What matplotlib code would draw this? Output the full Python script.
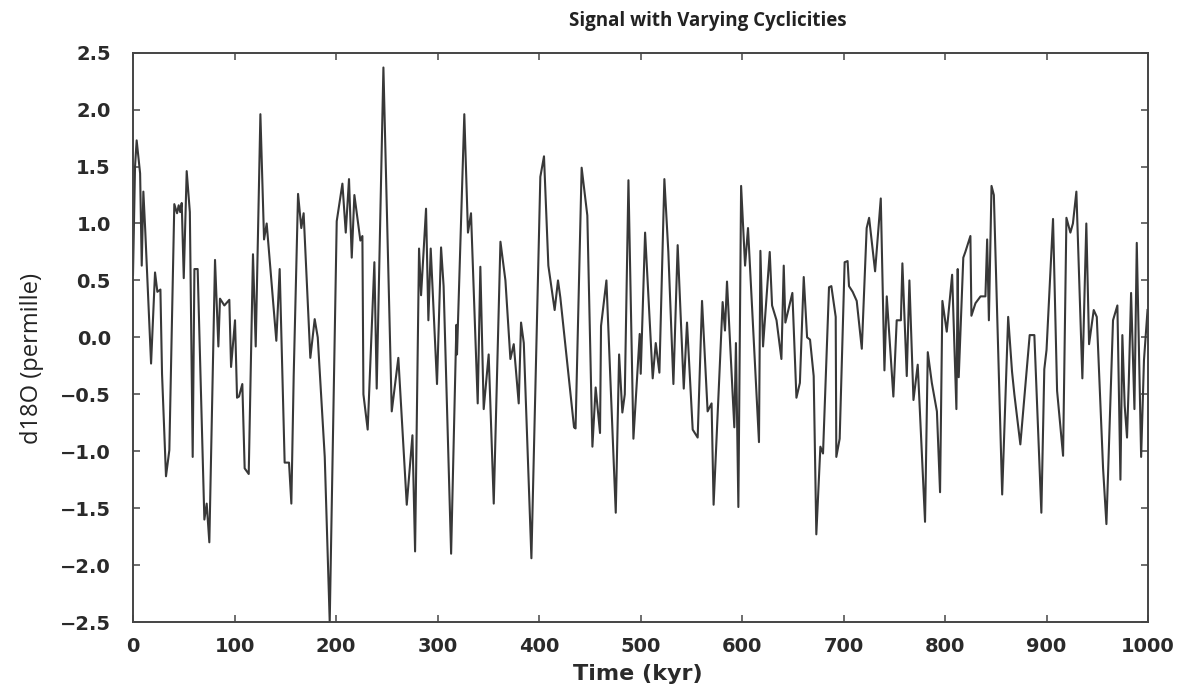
import matplotlib
matplotlib.use("Agg")
import matplotlib.pyplot as plt

# vertices of the signal (time in kyr, d18O in permille)
time_kyr = [0, 2, 3.6, 7, 8.6, 10.2, 12, 17.8, 21.7, 24, 27, 28.6, 32.5, 35.8,
            40.7, 43.4, 45, 46.5, 48, 50, 52.9, 56, 58.8, 60.5, 63.7, 70.3,
            72.6, 75.2, 80.8, 84.1, 85.7, 90, 94.9, 96.6, 100.5, 102.5,
            104.4, 107.7, 110, 114, 118.2, 120.9, 125.5, 129.1, 131.7, 141.2,
            144.5, 149.4, 153.7, 156, 158.3, 162.6, 165.8, 168.1, 174.7, 179,
            182, 188.9, 193.8, 200.7, 206.3, 209.6, 212.8, 215.5, 218.1, 224,
            226, 227, 231.2, 237.8, 240.1, 246.7, 254.9, 261.4, 269.7, 275.3,
            277.9, 281.8, 283.8, 288.7, 291, 293.3, 299.5, 303.5, 306, 313.4,
            318.6, 319.2, 326.4, 330, 333, 339.6, 342.2, 345.5, 350.4, 355.4,
            362, 366.9, 371.8, 375.1, 380, 382.3, 385, 392.5, 401.3, 404.9,
            409.2, 415.4, 418.7, 421, 434.5, 436, 442, 447.6, 452.6, 455.8,
            460.1, 461.1, 466.4, 475.6, 478.9, 482.1, 484.5, 488.1, 493, 499.2,
            500.2, 504.5, 512, 515, 518.6, 523.5, 527.4, 532.4, 536.6, 542.6,
            545.8, 551.4, 556.3, 560.6, 566.1, 570, 572, 580.9, 583.2, 585.2,
            592.4, 594, 596.4, 599.1, 603, 605.9, 616.7, 618.1, 620.7, 627.3,
            629.6, 634, 638.8, 641.1, 642.7, 649.6, 653.6, 657, 660.8, 664.1,
            667, 670.6, 673.2, 677.2, 679.8, 685.7, 688, 692.3, 692.9, 696.2,
            701.1, 704, 705.4, 709, 713, 718, 722.8, 725.2, 731.1, 736.7,
            740.3, 742.6, 749.1, 752.4, 756.5, 758, 762.3, 764.9, 768.9, 773.1,
            780.3, 783, 787, 792, 795.1, 797.4, 801.7, 807, 811.2, 812.5, 813.5,
            818, 820, 825, 826, 830, 835, 839.8, 841.5, 843.2, 845.8, 848.1,
            856.3, 862.2, 866, 868.3, 874.2, 883.4, 888, 894.9, 897.8, 900,
            906.4, 910.4, 916.3, 919.6, 923.5, 926, 929.4, 935.3, 939.2, 941.9,
            946.5, 949.5, 955.7, 959, 965.5, 969.8, 972.8, 974.7, 977, 979.3,
            981, 983.3, 986.6, 988.9, 993.2, 996, 999.5]
d18o = [0.55, 1.5, 1.73, 1.44, 0.63, 1.28, 0.95, -0.23, 0.57, 0.4, 0.42, -0.32,
        -1.22, -0.99, 1.17, 1.09, 1.16, 1.1, 1.18, 0.52, 1.46, 1.1, -1.05, 0.6,
        0.6, -1.6, -1.46, -1.8, 0.68, -0.08, 0.34, 0.28, 0.33, -0.26, 0.15,
        -0.53, -0.52, -0.41, -1.15, -1.2, 0.73, -0.08, 1.96, 0.86, 1.0, -0.03,
        0.6, -1.1, -1.1, -1.46, -0.34, 1.26, 0.96, 1.09, -0.18, 0.16, 0.0,
        -1.05, -2.5, 1.02, 1.35, 0.92, 1.39, 0.7, 1.25, 0.85, 0.89, -0.5,
        -0.81, 0.66, -0.45, 2.37, -0.65, -0.18, -1.47, -0.86, -1.88, 0.78,
        0.37, 1.13, 0.15, 0.78, -0.41, 0.79, 0.45, -1.9, 0.11, -0.15, 1.96,
        0.92, 1.09, -0.58, 0.62, -0.63, -0.15, -1.46, 0.84, 0.5, -0.19, -0.06,
        -0.58, 0.13, -0.05, -1.94, 1.41, 1.59, 0.63, 0.24, 0.5, 0.35, -0.79,
        -0.8, 1.49, 1.07, -0.96, -0.44, -0.84, 0.1, 0.5, -1.54, -0.15, -0.66,
        -0.5, 1.38, -0.89, 0.03, -0.32, 0.92, -0.36, -0.05, -0.31, 1.39, 0.75,
        -0.41, 0.81, -0.45, 0.13, -0.81, -0.88, 0.32, -0.65, -0.58, -1.47,
        0.31, 0.06, 0.49, -0.79, -0.05, -1.49, 1.33, 0.63, 0.96, -0.92, 0.76,
        -0.08, 0.75, 0.28, 0.15, -0.19, 0.63, 0.13, 0.39, -0.53, -0.4, 0.53,
        0.0, -0.02, -0.34, -1.73, -0.96, -1.02, 0.44, 0.45, 0.18, -1.05, -0.89,
        0.66, 0.67, 0.45, 0.4, 0.32, -0.1, 0.96, 1.05, 0.58, 1.22, -0.29,
        0.36, -0.52, 0.15, 0.15, 0.65, -0.34, 0.5, -0.55, -0.24, -1.62, -0.13,
        -0.4, -0.65, -1.36, 0.32, 0.05, 0.55, -0.63, 0.6, -0.35, 0.7, 0.75,
        0.89, 0.19, 0.3, 0.36, 0.36, 0.86, 0.15, 1.33, 1.25, -1.38, 0.18,
        -0.3, -0.5, -0.94, 0.02, 0.02, -1.54, -0.28, -0.11, 1.04, -0.47,
        -1.04, 1.05, 0.92, 1.0, 1.28, -0.36, 1.0, -0.06, 0.24, 0.18, -1.15,
        -1.64, 0.15, 0.28, -1.25, 0.02, -0.6, -0.88, -0.4, 0.39, -0.63, 0.83,
        -1.05, -0.2, 0.24]

yticks = [-2.5, -2.0, -1.5, -1.0, -0.5, 0.0, 0.5, 1.0, 1.5, 2.0, 2.5]
ytick_labels = ['\u22122.5', '\u22122.0', '\u22121.5', '\u22121.0', '\u22120.5',
                '0.0', '0.5', '1.0', '1.5', '2.0', '2.5']

plt.rcParams['font.family'] = ['Open Sans', 'DejaVu Sans']

fig = plt.figure(figsize=(11.95, 6.88), dpi=100)
ax = fig.add_axes([0.1113, 0.0959, 0.8494, 0.8275])

ax.plot(time_kyr, d18o, color='#383838', linewidth=1.5)

ax.set_xlim(0, 1000)
ax.set_ylim(-2.5, 2.5)
ax.set_xticks(range(0, 1001, 100))
ax.set_yticks(yticks)
ax.set_yticklabels(ytick_labels)
ax.tick_params(direction='in', length=5, width=1.2, color='#555555',
               top=True, right=True)
ax.tick_params(axis='x', pad=11)
ax.tick_params(axis='y', pad=16)
for lab in ax.get_xticklabels() + ax.get_yticklabels():
    lab.set_family('DejaVu Sans')
    lab.set_fontweight('bold')
    lab.set_fontsize(14)
    lab.set_color('#2a2a2a')
for s in ax.spines.values():
    s.set_color('#444444')
    s.set_linewidth(1.4)

fig.text(708 / 1195, 1 - 21 / 688, 'Signal with Varying Cyclicities',
         ha='center', va='center', fontsize=13.5, fontweight='bold', color='#222222')
fig.text(638 / 1195, 1 - 674 / 688, 'Time (kyr)', family='DejaVu Sans',
         ha='center', va='center', fontsize=16, fontweight='bold', color='#2a2a2a')
fig.text(32 / 1195, 1 - 358 / 688, 'd18O (permille)', rotation=90,
         ha='center', va='center', fontsize=17, color='#222222')

fig.savefig('out.png', dpi=100)
